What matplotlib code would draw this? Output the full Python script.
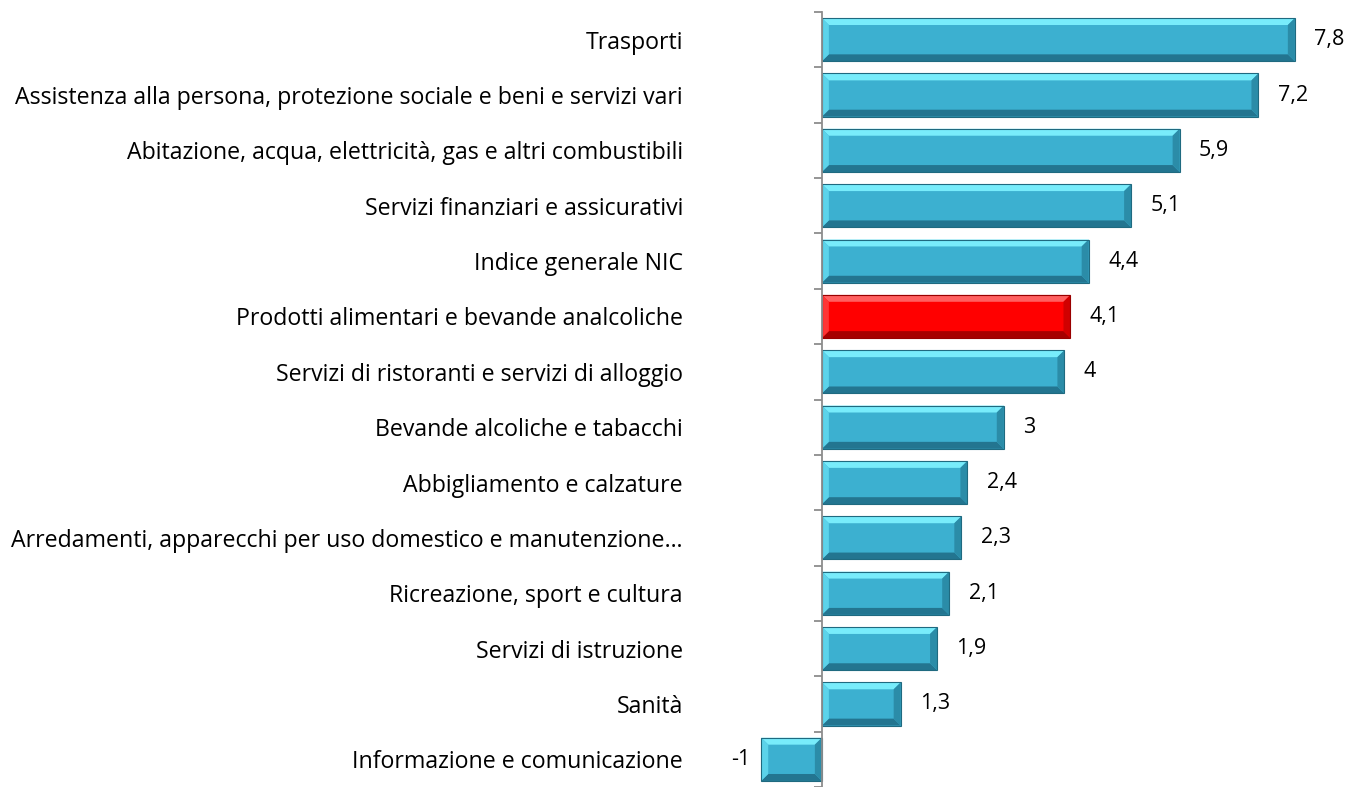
import matplotlib.pyplot as plt
from matplotlib.patches import Polygon

categories = [
    "Trasporti",
    "Assistenza alla persona, protezione sociale e beni e servizi vari",
    "Abitazione, acqua, elettricità, gas e altri combustibili",
    "Servizi finanziari e assicurativi",
    "Indice generale NIC",
    "Prodotti alimentari e bevande analcoliche",
    "Servizi di ristoranti e servizi di alloggio",
    "Bevande alcoliche e tabacchi",
    "Abbigliamento e calzature",
    "Arredamenti, apparecchi per uso domestico e manutenzione…",
    "Ricreazione, sport e cultura",
    "Servizi di istruzione",
    "Sanità",
    "Informazione e comunicazione",
]
values = [7.8, 7.2, 5.9, 5.1, 4.4, 4.1, 4, 3, 2.4, 2.3, 2.1, 1.9, 1.3, -1]
highlight = "Prodotti alimentari e bevande analcoliche"

plt.rcParams["font.family"] = ["Open Sans", "DejaVu Sans"]

# bevel palettes: body, top, left, right, bottom, edge
BLUE = ("#3cb0d0", "#78ecfb", "#5cd3ea", "#2b8ca8", "#237590", "#1f6a80")
RED = ("#ff0000", "#ff6060", "#ff3535", "#d00000", "#a60000", "#990000")

fig = plt.figure(figsize=(13.6, 7.87), dpi=100)
ax = fig.add_axes([740 / 1360, 0, 570 / 1360, 1 - 12 / 787])

ypos = list(range(len(categories)))
ax.set_xlim(-1.35, 8.05)
ax.set_ylim(13.34, -0.5)

bars = ax.barh(ypos, values, height=0.78, color="none", zorder=2)

# pixel -> data conversion for bevel size
p0 = ax.transData.transform((0, 0))
p1 = ax.transData.transform((1, 1))
bx = 7 / abs(p1[0] - p0[0])
by = 7 / abs(p1[1] - p0[1])

for bar, cat, v in zip(bars, categories, values):
    body, top, left, right, bottom, edge = RED if cat == highlight else BLUE
    x0, x1 = sorted([bar.get_x(), bar.get_x() + bar.get_width()])
    ya, yb = bar.get_y(), bar.get_y() + bar.get_height()  # ya is upper on screen (inverted)
    ax.add_patch(Polygon([(x0, ya), (x1, ya), (x1, yb), (x0, yb)], closed=True,
                         fc=body, ec="none", zorder=2))
    ax.add_patch(Polygon([(x0, ya), (x1, ya), (x1 - bx, ya + by), (x0 + bx, ya + by)],
                         closed=True, fc=top, ec="none", zorder=3))
    ax.add_patch(Polygon([(x0, yb), (x1, yb), (x1 - bx, yb - by), (x0 + bx, yb - by)],
                         closed=True, fc=bottom, ec="none", zorder=3))
    ax.add_patch(Polygon([(x0, ya), (x0 + bx, ya + by), (x0 + bx, yb - by), (x0, yb)],
                         closed=True, fc=left, ec="none", zorder=3))
    ax.add_patch(Polygon([(x1, ya), (x1 - bx, ya + by), (x1 - bx, yb - by), (x1, yb)],
                         closed=True, fc=right, ec="none", zorder=3))
    ax.add_patch(Polygon([(x0, ya), (x1, ya), (x1, yb), (x0, yb)], closed=True,
                         fc="none", ec=edge, lw=0.8, zorder=4))

    lab = f"{v:g}".replace(".", ",")
    if v >= 0:
        ax.annotate(lab, xy=(v, bar.get_y() + bar.get_height() / 2), xytext=(14, 0),
                    textcoords="offset points", ha="left", va="center", fontsize=15.5)
    else:
        ax.annotate(lab, xy=(v, bar.get_y() + bar.get_height() / 2), xytext=(-8, 0),
                    textcoords="offset points", ha="right", va="center", fontsize=15.5)

for s in ["top", "right", "bottom"]:
    ax.spines[s].set_visible(False)
ax.spines["left"].set_position(("data", 0))
ax.spines["left"].set_color("#8c8c8c")
ax.spines["left"].set_linewidth(1.3)
ax.spines["left"].set_zorder(5)

ax.set_xticks([])
ax.set_yticks(ypos)
ax.set_yticklabels(categories, fontsize=16.7)
ax.set_yticks([i - 0.5 for i in range(len(categories) + 1)], minor=True)
ax.tick_params(axis="y", which="major", length=0, pad=100)
ax.tick_params(axis="y", which="minor", length=6, width=1.3, color="#8c8c8c")

fig.savefig("out.png", dpi=100)
